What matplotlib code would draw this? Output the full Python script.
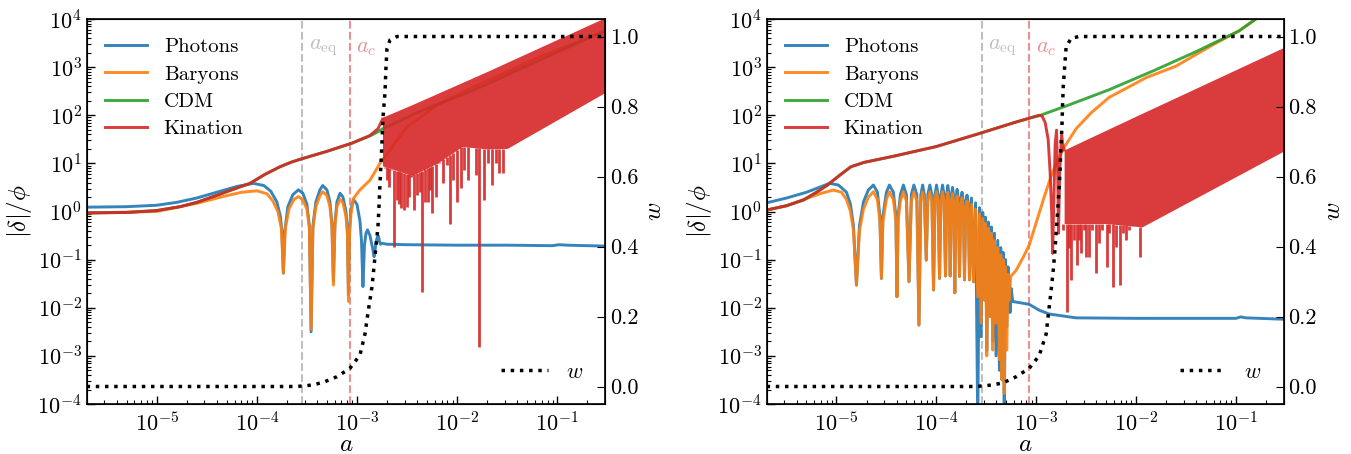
import numpy as np
import matplotlib
matplotlib.use("Agg")
import matplotlib.pyplot as plt
from matplotlib.ticker import LogLocator, NullFormatter

plt.rcParams['font.family'] = 'serif'
plt.rcParams['font.serif'] = ['cmr10']
plt.rcParams['mathtext.fontset'] = 'cm'
plt.rcParams['axes.formatter.use_mathtext'] = True
plt.rcParams['axes.unicode_minus'] = False
plt.rcParams['font.size'] = 16

# --- DATA (log10 a, log10 |delta|/phi) ---

a_eq = 2.85e-4
a_c = 8.5e-4

# left panel
L_ph_x = [-5.70, -5.3, -5.0, -4.8, -4.6, -4.4, -4.2, -4.034, -3.93, -3.86, -3.80, -3.765, -3.75, -3.735, -3.72,
          -3.69, -3.64, -3.585, -3.54, -3.50, -3.475, -3.458, -3.44, -3.41, -3.37, -3.342, -3.30, -3.27, -3.25,
          -3.235, -3.22, -3.20, -3.169, -3.14, -3.11, -3.095, -3.085, -3.075, -3.06, -3.035, -3.0, -2.97, -2.955,
          -2.94, -2.925, -2.91, -2.895, -2.87, -2.845, -2.829, -2.81, -2.795, -2.786, -2.775, -2.765, -2.75, -2.7,
          -2.5, -2.0, -1.5, -1.05, -0.98, -0.9, -0.5]
L_ph_y = [0.09, 0.10, 0.13, 0.19, 0.28, 0.40, 0.52, 0.585, 0.54, 0.42, 0.2, -0.1, -0.4, -1.28, -0.4,
          0.1, 0.35, 0.45, 0.38, 0.15, -0.3, -2.50, -0.3, 0.2, 0.45, 0.54, 0.45, 0.2, -0.25,
          -1.45, -0.25, 0.2, 0.38, 0.3, 0.0, -0.4, -1.73, -0.4, 0.05, 0.25, 0.15, -0.2, -0.6,
          -1.56, -0.7, -0.45, -0.38, -0.5, -0.75, -0.94, -0.65, -0.52, -0.51, -0.62, -0.68, -0.66, -0.68,
          -0.69, -0.70, -0.70, -0.71, -0.69, -0.70, -0.72]

L_ba_x = [-5.70, -5.0, -4.6, -4.3, -4.15, -4.0, -3.90, -3.84, -3.79, -3.755, -3.735, -3.715, -3.68, -3.63,
          -3.585, -3.54, -3.50, -3.475, -3.458, -3.44, -3.41, -3.37, -3.342, -3.30, -3.27, -3.25, -3.235,
          -3.22, -3.20, -3.169, -3.14, -3.11, -3.095, -3.085, -3.075, -3.06, -3.035, -2.97, -2.87, -2.77,
          -2.67, -2.50, -2.17, -1.836, -1.5, -1.17, -0.70, -0.5]
L_ba_y = [-0.03, 0.0, 0.17, 0.33, 0.40, 0.43, 0.37, 0.22, 0.0, -0.35, -1.28, -0.35, 0.05, 0.25,
          0.31, 0.24, 0.05, -0.35, -2.45, -0.35, 0.1, 0.33, 0.41, 0.33, 0.1, -0.3, -1.53,
          -0.3, 0.1, 0.25, 0.18, -0.1, -0.5, -1.87, -0.5, -0.05, 0.27, 0.45, 0.65, 1.0,
          1.28, 1.76, 2.25, 2.59, 2.9, 3.22, 3.60, 3.76]

L_cdm_x = [-5.70, -5.3, -5.0, -4.767, -4.6, -4.434, -4.25, -4.068, -3.92, -3.768, -3.65, -3.535, -3.3,
           -3.05, -2.87, -2.786, -2.735, -2.336, -1.836, -1.17, -0.5]
L_cdm_y = [-0.03, -0.02, 0.02, 0.10, 0.19, 0.31, 0.45, 0.585, 0.77, 0.93, 1.03, 1.105, 1.25,
           1.42, 1.57, 1.66, 1.73, 2.11, 2.52, 3.15, 3.78]

L_kin_x = [-5.70, -5.3, -5.0, -4.767, -4.6, -4.434, -4.25, -4.068, -3.92, -3.768, -3.65, -3.535, -3.3,
           -3.05, -2.87, -2.79, -2.745]
L_kin_y = [-0.03, -0.02, 0.02, 0.10, 0.19, 0.31, 0.45, 0.585, 0.77, 0.93, 1.03, 1.105, 1.25,
           1.42, 1.58, 1.72, 1.92]

L_band_x = [-2.745, -2.45, -2.2, -1.95, -1.7, -1.5, -0.5]
L_band_hi = [1.96, 2.22, 2.45, 2.68, 2.91, 3.10, 4.05]
L_band_lo = [0.95, 0.75, 1.0, 1.35, 1.3, 1.31, 2.50]

L_spike_x = [-2.72, -2.70, -2.68, -2.66, -2.63, -2.60, -2.58, -2.56, -2.53, -2.50, -2.48, -2.46, -2.43,
             -2.40, -2.37, -2.35, -2.32, -2.29, -2.27, -2.25, -2.21, -2.18, -2.14, -2.10, -2.07, -2.04,
             -2.00, -1.96, -1.93, -1.89, -1.85, -1.81, -1.78, -1.73, -1.69, -1.65, -1.61, -1.58, -1.54]
L_spike_y = [0.9, 0.65, 0.5, 0.86, -0.73, 0.24, 0.15, 0.07, 0.03, 0.10, 0.3, 0.72, 0.03,
             0.34, 0.4, -1.67, 0.20, 0.20, 0.45, -0.04, 0.31, 1.00, 0.59, 0.97, -0.25, 0.65,
             0.20, 0.48, 0.86, 0.65, 1.35, 0.76, -2.81, 0.24, 1.00, 0.55, 1.00, 0.79, 0.79]

L_w_x = [-5.70, -3.6, -3.45, -3.335, -3.2, -3.07, -2.97, -2.92, -2.885, -2.85, -2.83, -2.81, -2.79, -2.78,
         -2.77, -2.76, -2.75, -2.74, -2.72, -2.71, -2.70, -2.67, -2.60, -0.5]
L_w_y = [0.0, 0.0, 0.004, 0.012, 0.028, 0.052, 0.09, 0.15, 0.22, 0.285, 0.342, 0.40, 0.457, 0.514,
         0.58, 0.638, 0.70, 0.77, 0.84, 0.914, 0.966, 0.99, 1.0, 1.0]

# right panel
R_ph_x = [-5.70, -5.5, -5.3, -5.15, -5.07, -4.98, -4.90, -4.86, -4.83, -4.80, -4.77, -4.73, -4.68, -4.63,
          -4.59, -4.565, -4.55, -4.535, -4.50, -4.47, -4.43, -4.405, -4.394, -4.383, -4.36, -4.33, -4.30,
          -4.274, -4.25, -4.225, -4.195, -4.174, -4.155, -4.137, -4.12, -4.101, -4.085, -4.065, -4.045,
          -4.028, -4.013, -3.998, -3.983, -3.968, -3.953, -3.938, -3.923, -3.908, -3.896, -3.885, -3.873,
          -3.861, -3.85, -3.838, -3.826, -3.815, -3.803, -3.792, -3.78, -3.768, -3.755, -3.743, -3.73,
          -3.718, -3.705, -3.693, -3.68, -3.668, -3.648, -3.628, -3.607, -3.585, -3.568, -3.552, -3.535,
          -3.518, -3.507, -3.495, -3.478, -3.462, -3.448, -3.435, -3.418, -3.402, -3.385, -3.368, -3.355,
          -3.342, -3.331, -3.32, -3.307, -3.295, -3.282, -3.27, -3.262, -3.25, -3.235, -3.15, -3.07, -2.97,
          -2.87, -2.6, -2.0, -1.0, -0.95, -0.9, -0.5]
R_ph_y = [0.18, 0.28, 0.40, 0.52, 0.585, 0.55, 0.4, 0.15, -0.3, -1.53, -0.3, 0.2, 0.45, 0.55,
          0.4, -0.1, -1.39, -0.1, 0.4, 0.55, 0.4, -0.1, -1.77, -0.1, 0.35, 0.55, 0.35,
          -1.46, 0.35, 0.55, 0.35, -2.36, 0.35, 0.55, 0.35, -1.01, 0.35, 0.55, 0.35,
          -1.63, 0.35, 0.55, 0.35, -1.39, 0.35, 0.55, 0.35, -1.34, 0.35, 0.54, 0.35,
          -1.34, 0.3, 0.50, 0.3, -1.69, 0.28, 0.46, 0.28, -1.35, 0.22, 0.40, 0.22,
          -1.42, 0.18, 0.34, 0.18, -1.42, 0.28, -1.46, 0.18, -4.5, 0.08, -2.6, -0.02,
          -1.84, -0.12, -2.9, -0.22, -2.18, -0.32, -2.7, -0.45, -3.0, -0.6, -3.3, -0.75,
          -3.5, -0.85, -4.5, -1.0, -2.4, -1.15, -1.5, -2.1, -1.6, -1.87, -1.90, -1.93, -2.05,
          -2.13, -2.21, -2.22, -2.22, -2.19, -2.21, -2.24]

R_ba_x = [-5.70, -5.5, -5.3, -5.15, -5.03, -4.95, -4.90, -4.86, -4.83, -4.80, -4.77, -4.73, -4.68, -4.63,
          -4.59, -4.565, -4.55, -4.535, -4.50, -4.47, -4.43, -4.405, -4.394, -4.383, -4.36, -4.33, -4.30,
          -4.274, -4.25, -4.225, -4.195, -4.174, -4.155, -4.137, -4.12, -4.101, -4.085, -4.065, -4.045,
          -4.028, -4.013, -3.998, -3.983, -3.968, -3.953, -3.938, -3.923, -3.908, -3.896, -3.885, -3.873,
          -3.861, -3.85, -3.838, -3.826, -3.815, -3.803, -3.792, -3.78, -3.768, -3.755, -3.743, -3.73,
          -3.718, -3.705, -3.693, -3.68, -3.668, -3.648, -3.628, -3.607, -3.585, -3.568, -3.552, -3.535,
          -3.518, -3.507, -3.495, -3.478, -3.462, -3.448, -3.435, -3.418, -3.402, -3.385, -3.368, -3.355,
          -3.342, -3.331, -3.32, -3.307, -3.295, -3.282, -3.27, -3.255, -3.20, -3.13, -3.07, -2.98, -2.92,
          -2.84, -2.73, -2.60, -2.45, -2.27, -1.90, -1.60, -1.2, -0.97, -0.80, -0.5]
R_ba_y = [0.03, 0.12, 0.27, 0.38, 0.445, 0.40, 0.25, 0.0, -0.4, -1.53, -0.4, 0.05, 0.30, 0.41,
          0.25, -0.2, -1.39, -0.2, 0.25, 0.41, 0.25, -0.2, -1.77, -0.2, 0.22, 0.41, 0.22,
          -1.46, 0.22, 0.41, 0.22, -2.36, 0.22, 0.41, 0.22, -1.01, 0.22, 0.41, 0.22,
          -1.63, 0.22, 0.41, 0.22, -1.39, 0.22, 0.41, 0.22, -1.34, 0.2, 0.40, 0.2,
          -1.34, 0.18, 0.37, 0.18, -1.69, 0.15, 0.33, 0.15, -1.35, 0.1, 0.28, 0.1,
          -1.42, 0.05, 0.22, 0.05, -1.42, 0.15, -1.46, 0.05, -1.77, -0.05, -2.32, -0.15,
          -1.84, -0.25, -3.0, -0.35, -2.18, -0.45, -2.88, -0.6, -2.32, -0.75, -3.08, -0.9,
          -3.5, -1.0, -3.78, -1.15, -2.88, -1.3, -1.84, -1.35, -1.22, -0.95, -0.70, -0.1, 0.3,
          0.8, 1.3, 1.72, 2.05, 2.37, 2.78, 3.02, 3.5, 3.75, 4.0, 4.3]

R_cdm_x = [-5.70, -5.50, -5.33, -5.20, -5.09, -4.97, -4.855, -4.725, -4.425, -4.0, -3.57, -3.2, -3.05,
           -2.97, -2.69, -2.27, -1.83, -1.40, -0.97, -0.80, -0.5]
R_cdm_y = [0.03, 0.12, 0.24, 0.40, 0.55, 0.75, 0.93, 1.02, 1.15, 1.35, 1.62, 1.86, 1.95,
           1.99, 2.2, 2.53, 2.92, 3.32, 3.75, 4.0, 4.3]

R_kin_x = [-5.70, -5.50, -5.33, -5.20, -5.09, -4.97, -4.855, -4.725, -4.425, -4.0, -3.57, -3.2, -3.05,
           -2.97, -2.94, -2.91, -2.88, -2.86, -2.845, -2.835, -2.82, -2.81, -2.796, -2.785, -2.776,
           -2.765, -2.745, -2.73, -2.72]
R_kin_y = [0.03, 0.12, 0.24, 0.40, 0.55, 0.75, 0.93, 1.02, 1.15, 1.35, 1.62, 1.86, 1.95,
           2.0, 1.98, 1.85, 1.5, 0.8, 0.0, -0.87, 0.5, 1.4, 1.69, 0.8, -0.45,
           0.8, 1.59, 1.35, 1.28]

R_band_x = [-2.72, -2.3, -1.94, -0.5]
R_band_hi = [1.28, 1.69, 2.04, 3.43]
R_band_lo = [-0.25, -0.25, -0.32, 1.28]

R_spike_x = [-2.736, -2.696, -2.669, -2.649, -2.619, -2.596, -2.569, -2.553, -2.519, -2.496, -2.469,
             -2.436, -2.396, -2.369, -2.336, -2.286, -2.27, -2.23, -2.196, -2.163, -2.13, -2.103,
             -2.07, -1.963]
R_spike_y = [-0.38, -2.08, -0.76, -1.42, -0.59, -1.11, -0.59, -0.87, -0.38, -0.94, -0.94,
             -0.38, -1.28, -0.66, -0.38, -1.15, -0.45, -1.56, -0.73, -1.53, -0.45, -0.59,
             -0.38, -0.94]

R_w_x = [-5.70, -3.6, -3.45, -3.335, -3.2, -3.07, -2.97, -2.90, -2.869, -2.846, -2.826, -2.809, -2.796,
         -2.782, -2.769, -2.759, -2.752, -2.742, -2.736, -2.729, -2.70, -2.65, -2.57, -0.5]
R_w_y = [0.0, 0.0, 0.004, 0.01, 0.028, 0.052, 0.088, 0.15, 0.228, 0.285, 0.342, 0.40, 0.457,
         0.514, 0.571, 0.628, 0.685, 0.742, 0.80, 0.857, 0.97, 0.995, 1.0, 1.0]

c_ph, c_ba, c_cdm, c_kin = '#1f77b4', '#ff7f0e', '#2ca02c', '#d62728'


def L(v):
    return 10.0 ** np.asarray(v)


def draw(ax, ph, ba, cdm, kin, band, spikes, w):
    ax.plot(L(ph[0]), L(ph[1]), color=c_ph, lw=2.1, alpha=0.9, label='Photons')
    ax.plot(L(ba[0]), L(ba[1]), color=c_ba, lw=2.1, alpha=0.9, label='Baryons')
    ax.plot(L(cdm[0]), L(cdm[1]), color=c_cdm, lw=2.1, alpha=0.9, label='CDM')
    ax.plot(L(kin[0]), L(kin[1]), color=c_kin, lw=2.1, alpha=0.9, label='Kination')
    bx, blo, bhi = band
    ax.fill_between(L(bx), L(blo), L(bhi), color=c_kin, alpha=0.9, lw=0, zorder=2.5)
    sx = np.asarray(spikes[0])
    top = np.interp(sx, bx, blo)
    ax.vlines(L(sx), L(spikes[1]), L(top), color=c_kin, alpha=0.9, lw=2.0, zorder=2.5)

    ax.axvline(a_eq, color='gray', ls='--', lw=1.5, alpha=0.5, zorder=1)
    ax.axvline(a_c, color=c_kin, ls='--', lw=1.5, alpha=0.5, zorder=1)
    ax.text(a_eq * 1.16, 10 ** 3.4, r'$a_{\rm eq}$', color='gray', alpha=0.5, fontsize=16, va='center')
    ax.text(a_c * 1.16, 10 ** 3.4, r'$a_c$', color=c_kin, alpha=0.5, fontsize=16, va='center')

    ax.set_xscale('log')
    ax.set_yscale('log')
    ax.set_xlim(2e-6, 0.3)
    ax.set_ylim(1e-4, 1e4)
    ax.set_xticks([1e-5, 1e-4, 1e-3, 1e-2, 1e-1])
    ax.set_yticks([10.0 ** k for k in range(-4, 5)])
    ax.xaxis.set_minor_locator(LogLocator(base=10, subs=np.arange(2, 10), numticks=20))
    ax.yaxis.set_minor_locator(LogLocator(base=10, subs=np.arange(2, 10), numticks=20))
    ax.xaxis.set_minor_formatter(NullFormatter())
    ax.yaxis.set_minor_formatter(NullFormatter())
    ax.tick_params(which='both', direction='in', top=False, right=False, labelsize=16)
    ax.tick_params(which='major', length=6, width=1)
    ax.tick_params(which='minor', length=3, width=0.8)
    ax.tick_params(axis='x', pad=5)
    ax.set_xlabel(r'$a$', fontsize=18, labelpad=-1)
    ax.set_ylabel(r'$|\delta|/\phi$', fontsize=18, labelpad=2)
    ax.legend(loc='upper left', frameon=False, fontsize=15, handlelength=2.0,
              handletextpad=0.8, labelspacing=0.42, borderaxespad=0.5)

    tw = ax.twinx()
    tw.plot(L(w[0]), w[1], color='k', ls=':', lw=2.5, label=r'$w$')
    tw.set_ylim(-0.05, 1.05)
    tw.set_yticks([0.0, 0.2, 0.4, 0.6, 0.8, 1.0])
    tw.set_yticklabels(['0.0', '0.2', '0.4', '0.6', '0.8', '1.0'])
    tw.tick_params(direction='in', length=6, labelsize=16)
    tw.set_ylabel(r'$w$', fontsize=18)
    tw.legend(loc='lower right', frameon=False, fontsize=16, handlelength=2.1, borderaxespad=0.6)
    for s in ax.spines.values():
        s.set_linewidth(1.2)


fig = plt.figure(figsize=(13.51, 4.54), dpi=100)
ax1 = fig.add_axes([86.7 / 1351, 50 / 454, 518.3 / 1351, 385 / 454])
ax2 = fig.add_axes([766.7 / 1351, 50 / 454, 516.8 / 1351, 385 / 454])

draw(ax1, (L_ph_x, L_ph_y), (L_ba_x, L_ba_y), (L_cdm_x, L_cdm_y), (L_kin_x, L_kin_y),
     (L_band_x, L_band_lo, L_band_hi), (L_spike_x, L_spike_y), (L_w_x, L_w_y))
draw(ax2, (R_ph_x, R_ph_y), (R_ba_x, R_ba_y), (R_cdm_x, R_cdm_y), (R_kin_x, R_kin_y),
     (R_band_x, R_band_lo, R_band_hi), (R_spike_x, R_spike_y), (R_w_x, R_w_y))

fig.savefig('out.png', dpi=100)
